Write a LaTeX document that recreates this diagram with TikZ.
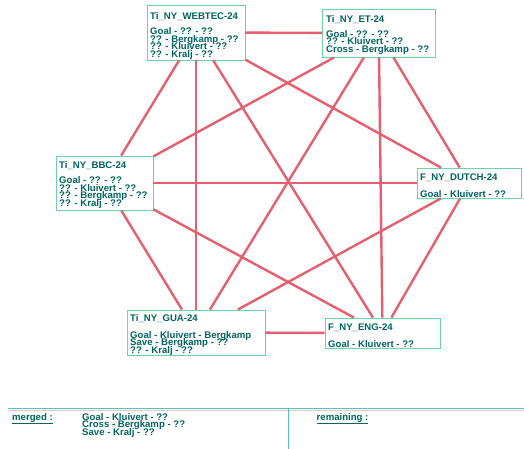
\documentclass[tikz,border=0pt]{standalone}
\usepackage{fontspec}
\setmainfont{Liberation Sans}
\definecolor{linkred}{RGB}{228,96,112}
\definecolor{boxgreen}{RGB}{110,212,168}
\definecolor{inkteal}{RGB}{0,100,95}
\definecolor{ruleteal}{RGB}{78,198,190}
\definecolor{rulepink}{RGB}{246,196,200}
\begin{document}
\begin{tikzpicture}[x=1pt,y=-1pt,
  team/.style={draw=boxgreen,line width=0.9pt,fill=white,rectangle,inner sep=0pt},
  link/.style={draw=linkred,line width=2.4pt},
  txt/.style={anchor=base west,inner sep=0pt,text=inkteal,
    font=\fontsize{9.6}{7.5}\selectfont\bfseries},
  rulel/.style={draw=ruleteal,line width=1pt}]
\useasboundingbox (0,0) rectangle (524,449);

% the six reports, as boxes
\node[team,minimum width=98pt,minimum height=55pt]   (webtec) at (196,32.5) {};
\node[team,minimum width=112.5pt,minimum height=48pt] (et)    at (378.75,33) {};
\node[team,minimum width=97pt,minimum height=54pt]   (bbc)    at (104.5,183) {};
\node[team,minimum width=104pt,minimum height=30pt]  (dutch)  at (469,183) {};
\node[team,minimum width=138pt,minimum height=45pt]  (gua)    at (196,332.5) {};
\node[team,minimum width=115pt,minimum height=30pt]  (eng)    at (382.5,333) {};

% every pair of reports is linked
\foreach \a/\b in {webtec/et,webtec/bbc,webtec/dutch,webtec/gua,webtec/eng,
                   et/bbc,et/dutch,et/gua,et/eng,
                   bbc/dutch,bbc/gua,bbc/eng,
                   dutch/gua,dutch/eng,gua/eng}
  \draw[link] (\a) -- (\b);

% box contents
\node[txt] (webtec-t) at (150,19.5) {Ti\_NY\_WEBTEC-24};
\node[txt] (webtec-1) at (150,35)   {Goal - ?? - ??};
\node[txt] (webtec-2) at (150,42.5) {?? - Bergkamp - ??};
\node[txt] (webtec-3) at (150,50)   {?? - Kluivert - ??};
\node[txt] (webtec-4) at (150,57.5) {?? - Kralj - ??};

\node[txt] (et-t) at (326,22.5) {Ti\_NY\_ET-24};
\node[txt] (et-1) at (326,37.5) {Goal - ?? - ??};
\node[txt] (et-2) at (326,45)   {?? - Kluivert - ??};
\node[txt] (et-3) at (326,52.5) {Cross - Bergkamp - ??};

\node[txt] (bbc-t) at (59,168.5) {Ti\_NY\_BBC-24};
\node[txt] (bbc-1) at (59,183.5) {Goal - ?? - ??};
\node[txt] (bbc-2) at (59,191)   {?? - Kluivert - ??};
\node[txt] (bbc-3) at (59,198.5) {?? - Bergkamp - ??};
\node[txt] (bbc-4) at (59,206)   {?? - Kralj - ??};

\node[txt] (dutch-t) at (420,180) {F\_NY\_DUTCH-24};
\node[txt] (dutch-1) at (420,197) {Goal - Kluivert - ??};

\node[txt] (gua-t) at (130,321.5) {Ti\_NY\_GUA-24};
\node[txt] (gua-1) at (130,338)   {Goal - Kluivert - Bergkamp};
\node[txt] (gua-2) at (130,345.5) {Save - Bergkamp - ??};
\node[txt] (gua-3) at (130,353)   {?? - Kralj - ??};

\node[txt] (eng-t) at (328,330) {F\_NY\_ENG-24};
\node[txt] (eng-1) at (328,347) {Goal - Kluivert - ??};

% result panel
\coordinate (panelL) at (8,408);
\coordinate (panelR) at (524,408);
\coordinate (splitT) at (288,408);
\coordinate (splitB) at (288,449);
\draw[draw=rulepink,line width=1pt] ([yshift=-2.5pt]panelL) -- ([yshift=-2.5pt]panelR);
\draw[rulel] (panelL) -- (panelR);
\draw[rulel] (splitT) -- (splitB);

\node[txt] (merged) at (12,420) {\underline{merged :}};
\node[txt] (merged-1) at (82,420)   {Goal - Kluivert - ??};
\node[txt] (merged-2) at (82,427.5) {Cross - Bergkamp - ??};
\node[txt] (merged-3) at (82,435)   {Save - Kralj - ??};
\node[txt] (remaining) at (316.5,420) {\underline{remaining :}};
\end{tikzpicture}
\end{document}
